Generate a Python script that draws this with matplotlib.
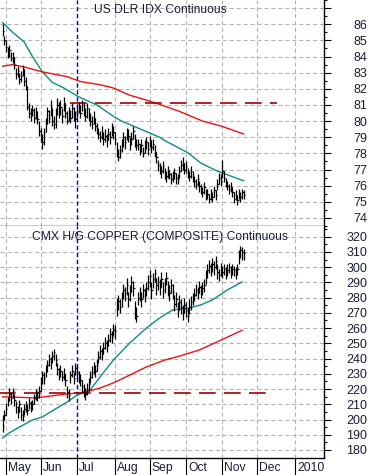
import matplotlib
matplotlib.use("Agg")
import matplotlib.pyplot as plt
import matplotlib.transforms as mtransforms
import numpy as np
import pandas as pd

plt.rcParams["font.family"] = ["Liberation Sans", "DejaVu Sans"]
plt.rcParams["lines.scale_dashes"] = False

# trading days shown (business days), data from 2009-04-29 to 2009-11-19
DAYS = pd.bdate_range("2009-04-29", "2010-01-29")
N_BARS = 147

# ---- US dollar index, daily bars ----
dx_high = [
    86.0, 85.3, 85.0, 84.6, 84.7, 84.3, 84.3, 84.0, 83.3, 83.4, 83.0, 83.1, 83.5, 83.2, 82.7,
    82.2, 81.1, 80.8, 81.0, 80.8, 80.9, 80.6, 80.0, 79.6, 79.2, 79.6, 80.2, 80.9, 80.7, 81.3,
    80.8, 80.3, 80.8, 81.4, 81.2, 81.3, 80.8, 81.5, 81.1, 80.6, 80.9, 80.7, 81.1, 80.9, 80.6,
    80.9, 81.2, 81.0, 81.3, 81.1, 80.8, 81.1, 80.8, 80.5, 80.3, 80.6, 80.2, 79.9, 79.6, 79.4,
    79.7, 79.3, 79.5, 79.2, 79.6, 79.4, 79.9, 79.7, 79.3, 78.7, 78.3, 78.5, 78.9, 79.3, 79.1,
    79.6, 79.5, 79.0, 79.3, 79.7, 79.2, 78.9, 78.9, 78.6, 78.9, 78.4, 78.8, 79.0, 78.7, 79.1,
    78.8, 78.9, 78.5, 78.1, 77.6, 77.4, 77.2, 77.5, 77.1, 76.9, 77.2, 77.0, 76.8, 76.9, 77.1,
    76.8, 76.7, 77.2, 77.6, 77.8, 77.4, 77.5, 77.1, 76.9, 77.2, 76.9, 76.6, 76.4, 76.7, 76.3,
    76.1, 75.9, 76.2, 75.8, 75.8, 75.5, 75.8, 75.6, 76.0, 75.7, 76.4, 76.8, 76.7, 77.6, 76.9,
    76.5, 76.3, 76.1, 76.2, 75.9, 75.6, 75.7, 75.4, 75.8, 75.6, 75.8, 75.7,
]
dx_low = [
    85.3, 84.7, 84.3, 83.9, 84.0, 83.7, 83.6, 83.2, 82.6, 82.7, 82.3, 82.4, 82.8, 82.2, 81.9,
    80.7, 80.2, 80.0, 80.3, 79.9, 80.1, 79.8, 79.1, 78.7, 78.3, 78.5, 79.3, 79.8, 79.9, 80.3,
    79.7, 79.5, 79.6, 80.4, 80.2, 80.4, 79.9, 80.6, 80.2, 79.8, 80.0, 79.9, 80.2, 80.0, 79.6,
    80.2, 80.5, 80.2, 80.6, 80.3, 80.0, 80.2, 80.0, 79.7, 79.5, 79.8, 79.4, 79.2, 78.9, 78.7,
    78.9, 78.5, 78.7, 78.4, 78.8, 78.6, 79.1, 78.9, 78.5, 77.8, 77.5, 77.7, 78.1, 78.4, 78.3,
    78.8, 78.7, 78.2, 78.5, 78.9, 78.4, 78.2, 78.2, 77.9, 78.1, 77.8, 78.0, 78.3, 77.9, 78.4,
    78.0, 78.2, 77.8, 77.4, 76.9, 76.7, 76.5, 76.8, 76.4, 76.2, 76.5, 76.4, 76.1, 76.2, 76.4,
    76.1, 76.1, 76.5, 76.9, 77.0, 76.7, 76.8, 76.5, 76.3, 76.5, 76.2, 75.9, 75.8, 76.0, 75.6,
    75.5, 75.3, 75.5, 75.1, 75.2, 74.9, 75.1, 75.0, 75.3, 75.1, 75.7, 76.1, 76.0, 76.5, 76.2,
    75.9, 75.7, 75.5, 75.6, 75.3, 74.9, 75.1, 74.8, 75.2, 75.0, 75.2, 75.2,
]
dx_close = [
    85.6, 85.0, 84.6, 84.2, 84.4, 83.9, 84.0, 83.5, 82.9, 83.1, 82.6, 82.8, 83.2, 82.5, 82.2,
    80.9, 80.5, 80.4, 80.7, 80.2, 80.5, 80.1, 79.4, 79.0, 78.7, 79.3, 79.8, 80.6, 80.2, 80.9,
    80.0, 79.8, 80.5, 81.0, 80.6, 80.9, 80.3, 81.1, 80.5, 80.0, 80.6, 80.2, 80.8, 80.4, 80.1,
    80.6, 80.9, 80.5, 81.0, 80.7, 80.3, 80.8, 80.4, 80.0, 79.8, 80.2, 79.7, 79.5, 79.2, 79.0,
    79.3, 78.9, 79.1, 78.8, 79.2, 79.0, 79.6, 79.3, 78.9, 78.0, 77.8, 78.2, 78.6, 79.0, 78.7,
    79.3, 79.1, 78.6, 78.9, 79.4, 78.8, 78.5, 78.6, 78.2, 78.5, 78.0, 78.4, 78.7, 78.3, 78.8,
    78.4, 78.6, 78.1, 77.8, 77.3, 77.0, 76.9, 77.2, 76.8, 76.6, 76.9, 76.7, 76.4, 76.5, 76.8,
    76.5, 76.4, 76.9, 77.3, 77.4, 77.0, 77.2, 76.8, 76.6, 76.9, 76.5, 76.3, 76.1, 76.4, 76.0,
    75.8, 75.6, 75.9, 75.4, 75.5, 75.2, 75.5, 75.3, 75.7, 75.4, 76.1, 76.5, 76.3, 76.9, 76.5,
    76.2, 76.0, 75.8, 75.9, 75.6, 75.2, 75.4, 75.1, 75.5, 75.3, 75.6, 75.4,
]
# moving averages: (trading-day index, value)
dx_ma_fast_day = [0, 6, 13, 18, 24, 30, 37, 46, 57, 67, 72, 87, 95, 98, 112, 120, 130, 138, 146]
dx_ma_fast = [86.1, 85.5, 84.9, 84.0, 83.05, 82.4, 82.05, 81.5, 81.0, 80.3, 80.0, 79.35, 79.0,
              78.8, 78.05, 77.4, 76.9, 76.6, 76.3]
dx_ma_slow_day = [0, 6, 13, 24, 39, 47, 59, 67, 77, 87, 96, 107, 121, 132, 146]
dx_ma_slow = [83.4, 83.5, 83.35, 83.05, 82.75, 82.45, 82.25, 82.05, 81.6, 81.3, 81.0, 80.6,
              80.0, 79.7, 79.2]
dx_level = 81.12
dx_level_span = (41, 166)

# ---- Copper, daily bars ----
cu_high = [
    203, 206, 211, 215, 221, 218, 221, 217, 212, 209, 213, 208, 206, 210, 212, 210, 214, 212,
    213, 217, 220, 219, 222, 228, 232, 231, 236, 239, 243, 241, 245, 246, 243, 237, 234, 236,
    232, 234, 230, 222, 220, 232, 236, 231, 237, 235, 232, 230, 226, 223, 221, 224, 227, 232,
    235, 238, 236, 240, 245, 249, 247, 251, 254, 252, 256, 260, 258, 263, 262, 280, 282, 279,
    284, 289, 287, 293, 284, 288, 294, 291, 278, 274, 284, 287, 284, 289, 286, 290, 295, 298,
    290, 296, 299, 293, 294, 292, 297, 290, 293, 297, 291, 288, 292, 289, 282, 284, 277, 282,
    279, 275, 280, 277, 273, 279, 281, 283, 286, 289, 287, 291, 288, 290, 292, 298, 302, 305,
    303, 306, 304, 307, 302, 299, 303, 301, 302, 300, 302, 303, 301, 302, 301, 300, 302, 311,
    314, 313, 312,
]
cu_low = [
    192, 200, 203, 209, 212, 210, 214, 209, 204, 201, 205, 200, 199, 203, 205, 203, 207, 205,
    206, 210, 213, 212, 214, 219, 223, 223, 228, 231, 235, 233, 237, 239, 235, 229, 226, 228,
    225, 226, 222, 214, 212, 224, 228, 223, 229, 227, 224, 222, 218, 215, 213, 216, 219, 224,
    227, 230, 228, 232, 237, 240, 239, 243, 246, 244, 248, 251, 250, 255, 253, 268, 272, 270,
    274, 279, 278, 282, 274, 278, 284, 281, 266, 264, 275, 278, 274, 280, 277, 281, 285, 287,
    279, 286, 290, 282, 285, 282, 287, 280, 283, 288, 281, 278, 283, 279, 271, 274, 267, 272,
    269, 265, 270, 267, 264, 269, 272, 275, 278, 281, 279, 283, 280, 282, 284, 289, 293, 296,
    294, 297, 295, 299, 292, 291, 294, 293, 295, 292, 294, 296, 293, 295, 294, 292, 295, 302,
    306, 305, 305,
]
cu_close = [
    196, 203, 207, 212, 217, 214, 219, 213, 208, 205, 210, 203, 202, 207, 209, 206, 211, 208,
    210, 214, 217, 215, 219, 224, 229, 227, 233, 236, 240, 238, 242, 244, 239, 233, 230, 232,
    228, 230, 226, 218, 216, 229, 232, 227, 234, 231, 228, 226, 222, 219, 217, 220, 223, 228,
    231, 234, 232, 236, 241, 245, 243, 247, 250, 248, 252, 256, 254, 259, 258, 275, 278, 274,
    280, 285, 283, 288, 279, 284, 290, 286, 272, 268, 280, 283, 279, 285, 282, 286, 290, 294,
    285, 292, 296, 288, 290, 287, 292, 285, 289, 293, 286, 283, 288, 284, 276, 279, 272, 277,
    274, 270, 275, 272, 268, 274, 277, 279, 282, 285, 283, 287, 284, 286, 288, 294, 298, 301,
    299, 302, 300, 304, 297, 295, 299, 297, 299, 296, 298, 300, 297, 299, 298, 296, 299, 307,
    311, 310, 309,
]
cu_ma_fast_day = [0, 4, 10, 18, 24, 29, 39, 45, 50, 53, 59, 67, 77, 87, 95, 103, 112, 120, 127, 136, 145]
cu_ma_fast = [188, 191.2, 195, 199.7, 201.7, 205, 211.5, 216, 218, 219.4, 228, 239, 250.3, 260,
              266.6, 272, 273, 275.2, 278.5, 285, 290.3]
cu_ma_slow_day = [0, 20, 39, 50, 59, 67, 77, 87, 98, 107, 119, 133, 145]
cu_ma_slow = [214.9, 214.2, 216.8, 218, 220.7, 224, 229.2, 234.5, 239, 241.6, 245.6, 252.5, 258.6]
cu_level = 217.2
cu_level_span = (-2, 162)

MONTH_NAMES = ["May", "Jun", "Jul", "Aug", "Sep", "Oct", "Nov", "Dec", "2010"]
MARK_DAY = 45  # dotted marker, 1 Jul

TEXT = "#1c1c3a"
GRID = "#b4b4b4"
TEAL = "#0a8f80"
RED = "#f01010"
LEVEL = "#a00000"
MARK = "#0000dd"

W, H = 371, 475
fig = plt.figure(figsize=(W / 100, H / 100), dpi=100)
ax1 = fig.add_axes([0, 1 - 226 / H, 324 / W, 226 / H])
ax2 = fig.add_axes([0, 1 - 458 / H, 324 / W, 232 / H])

month_idx = []
for k in range(1, len(DAYS)):
    if DAYS[k].month != DAYS[k - 1].month:
        month_idx.append(k)
xlim = (-1.64, 194.6)


def draw_bars(ax, high, low, close):
    idx = np.arange(len(close))
    ax.vlines(idx, low, high, color="black", lw=0.9, zorder=3)
    ax.hlines(close, idx, idx + 0.9, color="black", lw=0.9, zorder=3)


def style_axis(ax, major, minor, labels):
    ax.set_xlim(*xlim)
    ax.set_xticks(month_idx)
    ax.set_yticks(major)
    ax.set_yticklabels(labels)
    ax.set_yticks(minor, minor=True)
    ax.yaxis.tick_right()
    ax.tick_params(axis="y", which="major", length=5, width=0.8, pad=26, labelsize=9,
                   colors="black", labelcolor=TEXT)
    ax.tick_params(axis="y", which="minor", length=2.5, width=0.8, colors="black")
    plt.setp(ax.get_yticklabels(), ha="right")
    ax.grid(True, which="major", color=GRID, lw=0.8, linestyle=(0, (3, 2)))
    ax.spines["left"].set_visible(False)
    ax.spines["top"].set_visible(False)
    ax.spines["right"].set_linewidth(1.0)
    ax.spines["bottom"].set_linewidth(1.0)
    ax.axvline(MARK_DAY, color=MARK, lw=1.0, linestyle=(0, (3, 2)), zorder=1.8)


# top panel
draw_bars(ax1, dx_high[:N_BARS], dx_low[:N_BARS], dx_close[:N_BARS])
ax1.plot(dx_ma_fast_day, dx_ma_fast, color=TEAL, lw=1.0)
ax1.plot(dx_ma_slow_day, dx_ma_slow, color=RED, lw=1.0)
ax1.hlines(dx_level, *dx_level_span, color=LEVEL, lw=1.2, linestyle=(0, (12, 6)))
ax1.set_ylim(73.55, 87.5)
top_ticks = list(range(74, 88))
style_axis(ax1, top_ticks, np.arange(73.5, 87.6, 1.0),
           [str(t) if t < 87 else "" for t in top_ticks])
ax1.tick_params(axis="x", length=0, labelbottom=False)
ax1.text(0.494, 0.956, "US DLR IDX Continuous", transform=ax1.transAxes, ha="center",
         va="center", fontsize=8.7, color=TEXT)

# bottom panel
draw_bars(ax2, cu_high, cu_low, cu_close)
ax2.plot(cu_ma_fast_day, cu_ma_fast, color=TEAL, lw=1.0)
ax2.plot(cu_ma_slow_day, cu_ma_slow, color=RED, lw=1.0)
ax2.hlines(cu_level, *cu_level_span, color=LEVEL, lw=1.2, linestyle=(0, (12, 6)))
ax2.set_ylim(174.75, 327.0)
bot_ticks = list(range(180, 330, 10))
style_axis(ax2, bot_ticks, np.arange(185, 326, 10), [str(t) for t in bot_ticks])
ax2.tick_params(axis="x", which="major", length=12, width=0.8, direction="out",
                labelbottom=False, colors="black")
ax2.text(0.494, 0.953, "CMX H/G COPPER (COMPOSITE) Continuous", transform=ax2.transAxes,
         ha="center", va="center", fontsize=8.7, color=TEXT)

trans = mtransforms.blended_transform_factory(ax2.transData, ax2.transAxes)
for pos, name in zip(month_idx, MONTH_NAMES):
    ax2.text(pos + 1.3, -0.043, name, transform=trans, ha="left", va="center",
             fontsize=8.7, color=TEXT)

fig.savefig("out.png", dpi=100)
